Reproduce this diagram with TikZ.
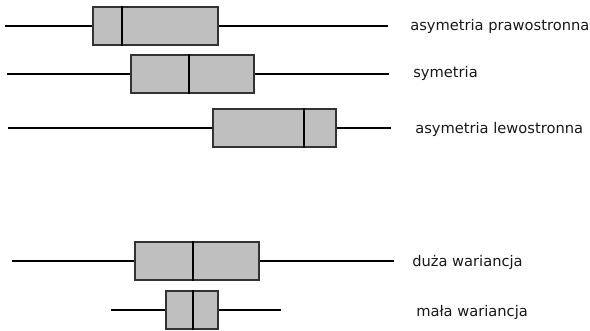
\documentclass[tikz,border=0pt]{standalone}
\usepackage{fontspec}
\setmainfont{DejaVu Sans}
\usepackage{tikz}
% one box plot: name, y, left whisker, q1, median, q3, right whisker
\newcommand{\boxPlot}[7]{%
  \coordinate (#1-lo) at (#3,#2);
  \coordinate (#1-hi) at (#7,#2);
  \coordinate (#1-m) at (#5,#2);
  \node[box, minimum width={(#6-#4)*0.75pt}] (#1) at ({(#4+#6)/2},#2) {};
  \draw[whisker] (#1-lo) -- (#1.west);
  \draw[whisker] (#1.east) -- (#1-hi);
  \draw[median] (#1.north -| #1-m) -- (#1.south -| #1-m);
}

\begin{document}
\begin{tikzpicture}[x=0.75pt, y=-0.75pt]
  \tikzset{
    box/.style={draw=black!80, fill=black!25, line width=0.8pt,
      minimum height=28.5pt, inner sep=0pt},
    whisker/.style={line width=1.8pt, black},
    median/.style={line width=2.2pt, black},
    label/.style={anchor=west, inner sep=0pt, font=\fontsize{11}{13}\selectfont, text=black!90}
  }
  \useasboundingbox (0,0) rectangle (590,331);
  \boxPlot{prawo}{26}{5}{93}{122}{218}{388}
  \boxPlot{sym}{74}{7}{131}{189}{254}{389}
  \boxPlot{lewo}{128}{8}{213}{304}{336}{391}
  \boxPlot{duza}{261}{12}{135}{193}{259}{394}
  \boxPlot{mala}{310}{111}{166}{193}{218}{281}
  \node[label] (l-prawo) at (410,26) {asymetria prawostronna};
  \node[label] (l-sym) at (413,73) {symetria};
  \node[label] (l-lewo) at (415,129) {asymetria lewostronna};
  \node[label] (l-duza) at (412,262) {duża wariancja};
  \node[label] (l-mala) at (416,312) {mała wariancja};
\end{tikzpicture}
\end{document}
